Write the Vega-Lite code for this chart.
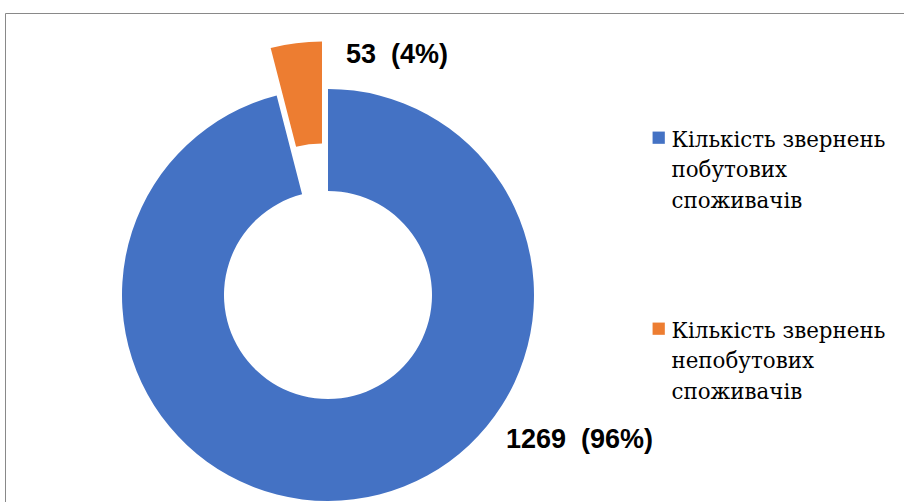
{
  "$schema": "https://vega.github.io/schema/vega-lite/v6.json",
  "width": 899,
  "height": 489,
  "autosize": {"type": "none"},
  "padding": {"left": 5, "top": 13, "right": 0, "bottom": 0},
  "background": "white",
  "view": {"stroke": "#898989", "strokeWidth": 1},
  "data": {
    "values": [
      {"category": "Кількість звернень побутових споживачів", "value": 1269, "label": "1269 \u00a0(96%)"},
      {"category": "Кількість звернень непобутових споживачів", "value": 53, "label": "53 \u00a0(4%)"}
    ]
  },
  "transform": [
    {"stack": "value", "groupby": [], "sort": [{"field": "value", "order": "descending"}], "as": ["v0", "v1"]}
  ],
  "layer": [
    {
      "transform": [{"filter": {"field": "value", "equal": 1269}}],
      "mark": {"type": "arc", "innerRadius": 104, "outerRadius": 206, "xOffset": -126.5, "yOffset": 37.5},
      "encoding": {
        "theta": {"field": "v0", "type": "quantitative", "scale": {"domain": [0, 1322]}},
        "theta2": {"field": "v1"},
        "color": {
          "field": "category",
          "type": "nominal",
          "scale": {
            "domain": ["Кількість звернень побутових споживачів", "Кількість звернень непобутових споживачів"],
            "range": ["#4472C4", "#ED7D31"]
          },
          "legend": {
            "orient": "none",
            "legendX": 643,
            "legendY": 114,
            "title": null,
            "padding": 0,
            "symbolType": "square",
            "symbolSize": 150,
            "symbolStrokeWidth": 0,
            "symbolOpacity": 1,
            "labelFont": "DejaVu Serif",
            "labelFontSize": 21.4,
            "labelColor": "black",
            "labelLimit": 400,
            "labelOffset": 2,
            "labelBaseline": "alphabetic",
            "rowPadding": 105,
            "labelExpr": "[join(slice(split(datum.label, ' '), 0, 2), ' '), split(datum.label, ' ')[2], split(datum.label, ' ')[3]]",
            "encode": {"labels": {"update": {"lineHeight": {"value": 30.5}, "dy": {"value": 9}}}}
          }
        }
      }
    },
    {
      "transform": [{"filter": {"field": "value", "equal": 53}}],
      "mark": {"type": "arc", "innerRadius": 104, "outerRadius": 206, "xOffset": -132.5, "yOffset": -10.1},
      "encoding": {
        "theta": {"field": "v0", "type": "quantitative"},
        "theta2": {"field": "v1"},
        "color": {"field": "category", "type": "nominal"}
      }
    },
    {
      "transform": [{"filter": {"field": "value", "equal": 1269}}],
      "mark": {"type": "text", "align": "left", "baseline": "alphabetic", "font": "Liberation Sans", "fontWeight": "bold", "fontSize": 27, "color": "black", "dx": 51.5, "dy": 190.5},
      "encoding": {"text": {"field": "label"}}
    },
    {
      "transform": [{"filter": {"field": "value", "equal": 53}}],
      "mark": {"type": "text", "align": "left", "baseline": "alphabetic", "font": "Liberation Sans", "fontWeight": "bold", "fontSize": 27, "color": "black", "dx": -108.5, "dy": -194.5},
      "encoding": {"text": {"field": "label"}}
    }
  ]
}
